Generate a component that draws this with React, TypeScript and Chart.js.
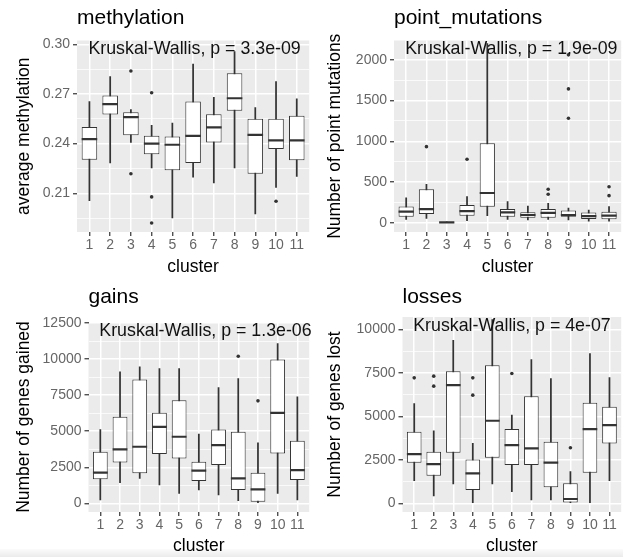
import React, { useEffect, useRef } from 'react';
import { Chart, registerables } from 'chart.js';

Chart.register(...registerables);

// ---------- shared categories ----------
const clusters = ['1', '2', '3', '4', '5', '6', '7', '8', '9', '10', '11'];

// ---------- methylation ----------
const methWhiskerLow = [0.2056, 0.2283, 0.2407, 0.2253, 0.1951, 0.2198, 0.2162, 0.2253, 0.1975, 0.2136, 0.2202];
const methQ1 = [0.2303, 0.2576, 0.245, 0.2335, 0.2239, 0.2283, 0.2407, 0.2598, 0.2218, 0.2367, 0.2299];
const methMedian = [0.2427, 0.2638, 0.256, 0.24, 0.2393, 0.2447, 0.2498, 0.2674, 0.2453, 0.2419, 0.2419];
const methQ3 = [0.25, 0.269, 0.259, 0.2447, 0.2443, 0.2654, 0.2578, 0.2825, 0.255, 0.255, 0.2568];
const methWhiskerHigh = [0.2654, 0.2805, 0.2605, 0.251, 0.2524, 0.288, 0.2679, 0.2956, 0.2618, 0.2775, 0.267];
const methOutliers: [string, number][] = [['3', 0.2839], ['3', 0.2218], ['4', 0.2707], ['4', 0.2078], ['4', 0.192], ['10', 0.2052]];
const methTicks = [0.21, 0.24, 0.27, 0.3];
const methTickLabels = ['0.21', '0.24', '0.27', '0.30'];
const methMinorTicks = [0.195, 0.225, 0.255, 0.285];
const methLimits = [0.1866, 0.3023];

// ---------- point_mutations ----------
const pmWhiskerLow = [41, 54, 0, 25, 86, 41, 33, 41, 33, 20, 20];
const pmQ1 = [74, 107, 2, 86, 195, 74, 62, 62, 74, 45, 41];
const pmMedian = [135, 168, 5, 143, 365, 127, 95, 120, 95, 80, 86];
const pmQ3 = [200, 410, 10, 217, 975, 168, 127, 168, 150, 125, 135];
const pmWhiskerHigh = [305, 472, 12, 320, 2200, 258, 205, 238, 180, 156, 197];
const pmOutliers: [string, number][] = [['2', 934], ['4', 779], ['8', 410], ['8', 349], ['9', 2061], ['9', 1643], ['9', 1283], ['11', 442], ['11', 332]];
const pmTicks = [0, 500, 1000, 1500, 2000];
const pmTickLabels = ['0', '500', '1000', '1500', '2000'];
const pmMinorTicks = [250, 750, 1250, 1750];
const pmLimits = [-114, 2237];

// ---------- gains ----------
const gainWhiskerLow = [230, 1430, 1730, 1268, 692, 922, 577, 184, 46, 692, 230];
const gainQ1 = [1660, 2837, 2076, 3413, 3113, 1545, 2652, 922, 115, 3459, 1614];
const gainMedian = [2122, 3736, 3921, 5304, 4613, 2260, 4036, 1730, 969, 6273, 2306];
const gainQ3 = [3575, 5996, 8579, 6273, 7149, 2883, 5120, 4958, 2122, 9963, 4336];
const gainWhiskerHigh = [5120, 9110, 9456, 9340, 9340, 4797, 8026, 8648, 4197, 11070, 7380];
const gainOutliers: [string, number][] = [['8', 10193], ['9', 7103]];
const gainTicks = [0, 2500, 5000, 7500, 10000, 12500];
const gainTickLabels = ['0', '2500', '5000', '7500', '10000', '12500'];
const gainMinorTicks = [1250, 3750, 6250, 8750, 11250];
const gainLimits = [-602, 12569];

// ---------- losses ----------
const lossWhiskerLow = [1303, 421, 1111, 38, 1111, 670, 192, 192, 0, 38, 1303];
const lossQ1 = [2337, 1590, 2912, 766, 2625, 2203, 2203, 920, 40, 1762, 3448];
const lossMedian = [2835, 2261, 6801, 1724, 4751, 3352, 3161, 2337, 249, 4272, 4502];
const lossQ3 = [4119, 2969, 7605, 2529, 7950, 4272, 6169, 3544, 1149, 5785, 5556];
const lossWhiskerHigh = [5747, 4176, 9387, 3448, 10575, 5077, 8276, 7184, 1820, 8621, 7241];
const lossOutliers: [string, number][] = [['1', 7222], ['2', 7318], ['2', 6743], ['4', 7222], ['4', 6226], ['6', 7471], ['9', 3199]];
const lossTicks = [0, 2500, 5000, 7500, 10000];
const lossTickLabels = ['0', '2500', '5000', '7500', '10000'];
const lossMinorTicks = [1250, 3750, 6250, 8750];
const lossLimits = [-500, 10724];

// ---------- styling ----------
const FONT = "'Liberation Sans', Arial, Helvetica, sans-serif";
const DARK = '#333333';
const TICK_GREY = '#666666';
const PANEL_BG = '#EBEBEB';

type Frame = { left: number; top: number; width: number; height: number; yWidth: number; padTop: number; padRight: number; xHeight: number };
type Spec = {
  title: string; yTitle: string; note: string;
  lo: number[]; q1: number[]; med: number[]; q3: number[]; hi: number[];
  outliers: [string, number][];
  ticks: number[]; tickLabels: string[]; minor: number[]; limits: number[];
  frame: Frame;
};

const panels: Spec[] = [
  {
    title: 'methylation', yTitle: 'average methylation', note: 'Kruskal-Wallis, p = 3.3e-09',
    lo: methWhiskerLow, q1: methQ1, med: methMedian, q3: methQ3, hi: methWhiskerHigh, outliers: methOutliers,
    ticks: methTicks, tickLabels: methTickLabels, minor: methMinorTicks, limits: methLimits,
    frame: { left: 0, top: 0, width: 311, height: 278, yWidth: 77, padTop: 40.5, padRight: 1, xHeight: 46 },
  },
  {
    title: 'point_mutations', yTitle: 'Number of point mutations', note: 'Kruskal-Wallis, p = 1.9e-09',
    lo: pmWhiskerLow, q1: pmQ1, med: pmMedian, q3: pmQ3, hi: pmWhiskerHigh, outliers: pmOutliers,
    ticks: pmTicks, tickLabels: pmTickLabels, minor: pmMinorTicks, limits: pmLimits,
    frame: { left: 311, top: 0, width: 312, height: 278, yWidth: 83, padTop: 40.5, padRight: 0, xHeight: 46 },
  },
  {
    title: 'gains', yTitle: 'Number of genes gained', note: 'Kruskal-Wallis, p = 1.3e-06',
    lo: gainWhiskerLow, q1: gainQ1, med: gainMedian, q3: gainQ3, hi: gainWhiskerHigh, outliers: gainOutliers,
    ticks: gainTicks, tickLabels: gainTickLabels, minor: gainMinorTicks, limits: gainLimits,
    frame: { left: 0, top: 279, width: 311, height: 278, yWidth: 88.5, padTop: 43, padRight: 1, xHeight: 45 },
  },
  {
    title: 'losses', yTitle: 'Number of genes lost', note: 'Kruskal-Wallis, p = 4e-07',
    lo: lossWhiskerLow, q1: lossQ1, med: lossMedian, q3: lossQ3, hi: lossWhiskerHigh, outliers: lossOutliers,
    ticks: lossTicks, tickLabels: lossTickLabels, minor: lossMinorTicks, limits: lossLimits,
    frame: { left: 311, top: 279, width: 312, height: 278, yWidth: 91.5, padTop: 38, padRight: 0, xHeight: 45 },
  },
];

const panelText = {
  id: 'panelText',
  beforeDraw(chart: any) {
    const { ctx, chartArea: a } = chart;
    ctx.save();
    ctx.fillStyle = PANEL_BG;
    ctx.fillRect(a.left, a.top, a.right - a.left, a.bottom - a.top);
    ctx.restore();
  },
  afterDatasetsDraw(chart: any, _args: any, opts: any) {
    const { ctx, chartArea: a } = chart;
    ctx.save();
    ctx.textAlign = 'left';
    ctx.textBaseline = 'middle';
    ctx.fillStyle = '#111111';
    ctx.font = `17.8px ${FONT}`;
    const x1 = chart.scales.x.getPixelForValue(1);
    ctx.fillText(opts.note, x1 - 1, a.top + 8.7);
    ctx.fillStyle = '#000000';
    ctx.font = `21px ${FONT}`;
    ctx.fillText(opts.title, a.left, 18);
    ctx.restore();
  },
};

function makeConfig(p: Spec): any {
  const xs = clusters.map((_, i) => i + 1);
  const xOf = (c: string) => clusters.indexOf(c) + 1;
  const majorIndex = (v: number) => p.ticks.findIndex((t) => Math.abs(t - v) < 1e-9);
  const halfBox = (ctx: any) => {
    const sx = ctx.chart.scales.x;
    return Math.abs(sx.getPixelForValue(1.75) - sx.getPixelForValue(1)) / 2;
  };
  return {
    type: 'bar',
    data: {
      datasets: [
        {
          type: 'bar', label: 'whiskers', order: 4, grouped: false,
          data: xs.map((x, i) => ({ x, y: [p.lo[i], p.hi[i]] })),
          backgroundColor: DARK, borderWidth: 0, maxBarThickness: 1.1,
          barPercentage: 1, categoryPercentage: 1,
        },
        {
          type: 'bar', label: 'boxes', order: 3, grouped: false,
          data: xs.map((x, i) => ({ x, y: [p.q1[i], p.q3[i]] })),
          backgroundColor: '#ffffff', borderColor: DARK, borderWidth: 1, borderSkipped: false,
          barPercentage: 0.75, categoryPercentage: 1,
        },
        {
          type: 'line', label: 'medians', order: 2, showLine: false,
          data: xs.map((x, i) => ({ x, y: p.med[i] })),
          pointStyle: 'line', pointRadius: halfBox, pointHoverRadius: halfBox,
          pointBorderColor: DARK, pointBorderWidth: 2.2, borderColor: DARK,
        },
        {
          type: 'line', label: 'outliers', order: 1, showLine: false,
          data: p.outliers.map(([c, v]) => ({ x: xOf(c), y: v })),
          pointRadius: 1.8, pointHoverRadius: 1.8, pointBackgroundColor: DARK, pointBorderWidth: 0, borderColor: DARK,
        },
      ],
    },
    options: {
      responsive: false,
      animation: false,
      events: [],
      layout: { padding: { top: p.frame.padTop, right: p.frame.padRight, left: 0, bottom: 0 } },
      plugins: {
        legend: { display: false },
        tooltip: { enabled: false },
        panelText: { title: p.title, note: p.note },
      },
      scales: {
        x: {
          type: 'linear', min: 0.4, max: 11.6, offset: false,
          afterBuildTicks: (s: any) => { s.ticks = xs.map((v) => ({ value: v })); },
          afterFit: (s: any) => { s.height = p.frame.xHeight; },
          ticks: {
            callback: (v: number) => clusters[Math.round(v) - 1] ?? '',
            font: { family: FONT, size: 14 }, color: TICK_GREY, padding: 1,
            maxRotation: 0, minRotation: 0, autoSkip: false,
          },
          grid: { color: '#ffffff', lineWidth: 1.5, tickLength: 4, tickColor: DARK, tickWidth: 1.2, offset: false },
          border: { display: false },
          title: { display: true, text: 'cluster', font: { family: FONT, size: 17.5 }, color: '#000000', padding: { top: 0, bottom: 0 } },
        },
        y: {
          type: 'linear', min: p.limits[0], max: p.limits[1], beginAtZero: false,
          afterBuildTicks: (s: any) => {
            s.ticks = [...p.minor, ...p.ticks].sort((a, b) => a - b).map((v) => ({ value: v }));
          },
          afterFit: (s: any) => { s.width = p.frame.yWidth; },
          ticks: {
            callback: (v: number) => { const i = majorIndex(v); return i >= 0 ? p.tickLabels[i] : ''; },
            font: { family: FONT, size: 14 }, color: TICK_GREY, padding: 3, autoSkip: false,
          },
          grid: {
            color: '#ffffff',
            lineWidth: (c: any) => (c.tick && majorIndex(c.tick.value) >= 0 ? 1.5 : 0.75),
            tickLength: 4,
            tickColor: (c: any) => (c.tick && majorIndex(c.tick.value) >= 0 ? DARK : 'rgba(0,0,0,0)'),
            tickWidth: 1.2,
          },
          border: { display: false },
          title: { display: true, text: p.yTitle, font: { family: FONT, size: 17.5 }, color: '#000000', padding: { top: 13.5, bottom: 0 } },
        },
      },
    },
    plugins: [panelText],
  };
}

function Panel({ spec }: { spec: Spec }) {
  const ref = useRef<HTMLCanvasElement>(null);
  useEffect(() => {
    const chart = new Chart(ref.current as HTMLCanvasElement, makeConfig(spec));
    return () => chart.destroy();
  }, [spec]);
  const f = spec.frame;
  return (
    <canvas
      ref={ref}
      width={f.width}
      height={f.height}
      style={{ position: 'absolute', left: f.left, top: f.top, width: f.width, height: f.height }}
    />
  );
}

export default function App() {
  return (
    <div style={{ position: 'fixed', left: 0, top: 0, width: 623, height: 557, background: '#ffffff', overflow: 'hidden' }}>
      <div style={{ position: 'absolute', left: 0, top: 549, width: 623, height: 8, background: 'linear-gradient(#fbfbfb, #ebebeb)' }} />
      {panels.map((p) => (
        <Panel key={p.title} spec={p} />
      ))}
    </div>
  );
}
